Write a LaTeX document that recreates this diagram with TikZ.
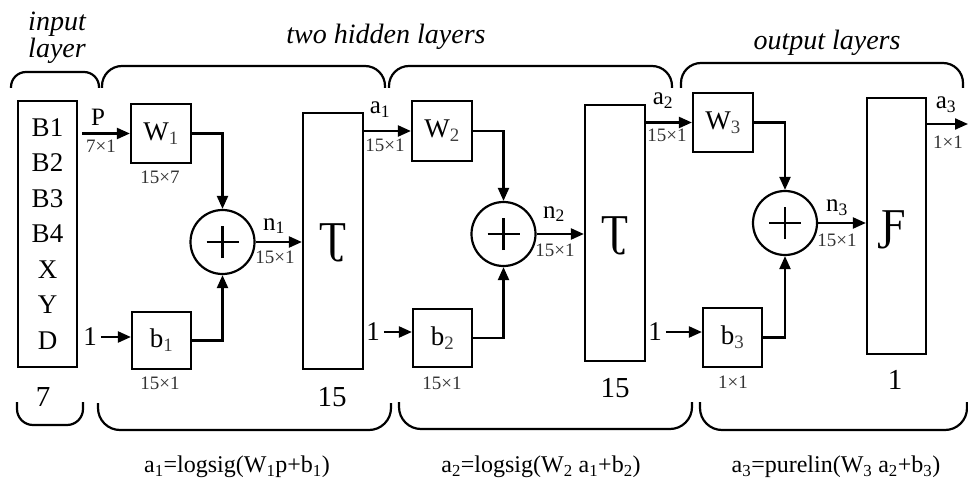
\documentclass[tikz,border=0pt]{standalone}
\usepackage{fontspec}
\setmainfont{Liberation Serif}
\usetikzlibrary{arrows.meta}
\begin{document}
\begin{tikzpicture}[x=1pt,y=-1pt,
  lw/.style={line width=2.2pt},
  box/.style={draw,lw,inner sep=0pt,font=\fontsize{27}{27}\selectfont},
  sumnode/.style={draw,lw,circle,minimum size=64pt,inner sep=0pt,
    path picture={
      \draw[lw] ([xshift=-16pt]path picture bounding box.center) -- ([xshift=16pt]path picture bounding box.center);
      \draw[lw] ([yshift=-16pt]path picture bounding box.center) -- ([yshift=16pt]path picture bounding box.center);}},
  arr/.style={lw,-{Triangle[length=13pt,width=11pt]}},
  lbl/.style={font=\fontsize{25}{25}\selectfont,inner sep=0pt},
  dim/.style={font=\fontsize{19}{19}\selectfont,inner sep=0pt,text=black!80},
  head/.style={font=\itshape\fontsize{28}{28}\selectfont,inner sep=0pt},
  brace/.style={lw},
  formula/.style={font=\fontsize{24}{24}\selectfont,inner sep=0pt},
  count/.style={font=\fontsize{29}{29}\selectfont,inner sep=0pt},
  tf/.style={font=\fontsize{44}{44}\selectfont,inner sep=0pt}
]
\useasboundingbox (0,0) rectangle (968,481);

% headings
\node[head,align=center,font=\itshape\fontsize{28}{27}\selectfont] (hin) at (57,38) {input\\layer};
\node[head] (hhid) at (386,37) {two hidden layers};
\node[head] (hout) at (827,43) {output layers};

% top braces
\draw[brace,rounded corners=15pt] (11,88) -- (11,72) -- (99,72) -- (99,88);
\draw[brace,rounded corners=20pt] (102,88) -- (102,66) -- (385,66) -- (385,88);
\draw[brace,rounded corners=20pt] (389,88) -- (389,66) -- (672,66) -- (672,88);
\draw[brace,rounded corners=20pt] (681,88) -- (681,63) -- (963,63) -- (963,88);

% bottom braces
\draw[brace,rounded corners=16pt] (17,402) -- (17,425) -- (83,425) -- (83,402);
\draw[brace,rounded corners=22pt] (98,403) -- (98,430) -- (391,430) -- (391,403);
\draw[brace,rounded corners=22pt] (399,402) -- (399,429) -- (692,429) -- (692,402);
\draw[brace,rounded corners=22pt] (700,402) -- (700,430) -- (967,430) -- (967,402);

% input box
\node[box,minimum width=59pt,minimum height=266pt,align=center,font=\fontsize{27}{35.5}\selectfont] (inp) at (47.5,234)
  {B1\\B2\\B3\\B4\\X\\Y\\D};

% layer 1
\node[box,minimum width=60pt,minimum height=59pt] (W1) at (161,133.5) {W\textsubscript{\color{black!75}1}};
\node[box,minimum width=59pt,minimum height=57pt] (b1) at (161.5,340.5) {b\textsubscript{\color{black!75}1}};
\node[sumnode] (sum1) at (222.5,242) {};
\node[box,minimum width=60pt,minimum height=256pt] (T1) at (333,241) {};
\node[tf] (tf1) at (333,243) {Ʈ};

% layer 2
\node[box,minimum width=60pt,minimum height=60pt] (W2) at (442,131) {W\textsubscript{\color{black!75}2}};
\node[box,minimum width=59pt,minimum height=58pt] (b2) at (442.5,338) {b\textsubscript{\color{black!75}2}};
\node[sumnode] (sum2) at (503.5,234) {};
\node[box,minimum width=60pt,minimum height=256pt] (T2) at (615,233) {};
\node[tf] (tf2) at (615,236) {Ʈ};

% layer 3
\node[box,minimum width=60pt,minimum height=59pt] (W3) at (723,122.5) {W\textsubscript{\color{black!75}3}};
\node[box,minimum width=59pt,minimum height=59pt] (b3) at (732.5,337.5) {b\textsubscript{\color{black!75}3}};
\node[sumnode] (sum3) at (785,223) {};
\node[box,minimum width=59pt,minimum height=256pt] (F) at (896.5,226) {};
\node[tf] (tf3) at (894,230) {Ƒ};
\coordinate (out) at (968,124);

% bias inputs
\node[lbl,font=\fontsize{27}{27}\selectfont] (one1) at (90,337) {1};
\node[lbl,font=\fontsize{27}{27}\selectfont] (one2) at (373,332) {1};
\node[lbl,font=\fontsize{27}{27}\selectfont] (one3) at (655,332) {1};

% connectors
\draw[arr] (inp.east |- W1.west) ++(4,0) -- (W1.west);
\draw[arr] (W1.east) -| (sum1.north);
\draw[arr] (b1.east) -| (sum1.south);
\draw[arr] (one1.east) ++(4,0) -- (one1.east -| b1.west);
\draw[arr] (sum1.east) -- (sum1.east -| T1.west);

\draw[arr] (T1.east |- W2.west) -- (W2.west);
\draw[arr] (W2.east) -| (sum2.north);
\draw[arr] (b2.east) -| (sum2.south);
\draw[arr] (one2.east) ++(4,0) -- (one2.east -| b2.west);
\draw[arr] (sum2.east) -- (sum2.east -| T2.west);

\draw[arr] (T2.east |- W3.west) -- (W3.west);
\draw[arr] (W3.east) -| (sum3.north);
\draw[arr] (b3.east) -| (sum3.south);
\draw[arr] (one3.east) ++(4,0) -- (one3.east -| b3.west);
\draw[arr] (sum3.east) -- (sum3.east -| F.west);
\draw[arr] (F.east |- out) -- (out);

% labels on arrows
\node[lbl] (lP) at (98,117) {P};
\node[dim] (dP) at (101,146) {7×1};
\node[dim] (dW1) at (160,177) {15×7};
\node[dim] (db1) at (160,383) {15×1};
\node[lbl] (ln1) at (274,226) {n\textsubscript{1}};
\node[dim] (dn1) at (275,257) {15×1};

\node[lbl] (la1) at (380,110) {a\textsubscript{1}};
\node[dim] (da1) at (385,145) {15×1};
\node[dim] (db2) at (442,383) {15×1};
\node[lbl] (ln2) at (554,214) {n\textsubscript{2}};
\node[dim] (dn2) at (555,250) {15×1};

\node[lbl] (la2) at (663,101) {a\textsubscript{2}};
\node[dim] (da2) at (667,135) {15×1};
\node[dim] (db3) at (733,382) {1×1};
\node[lbl] (ln3) at (837,208) {n\textsubscript{3}};
\node[dim] (dn3) at (837,240) {15×1};
\node[lbl] (la3) at (946,105) {a\textsubscript{3}};
\node[dim] (da3) at (948,142) {1×1};

% neuron counts
\node[count] (c0) at (43,397) {7};
\node[count] (c1) at (332,397) {15};
\node[count] (c2) at (615,388) {15};
\node[count] (c3) at (895,380) {1};

% formulas
\node[formula] (f1) at (237,467) {a\textsubscript{1}=logsig(W\textsubscript{1}p+b\textsubscript{1})};
\node[formula] (f2) at (541,467) {a\textsubscript{2}=logsig(W\textsubscript{2} a\textsubscript{1}+b\textsubscript{2})};
\node[formula] (f3) at (836,467) {a\textsubscript{3}=purelin(W\textsubscript{3} a\textsubscript{2}+b\textsubscript{3})};
\end{tikzpicture}
\end{document}
